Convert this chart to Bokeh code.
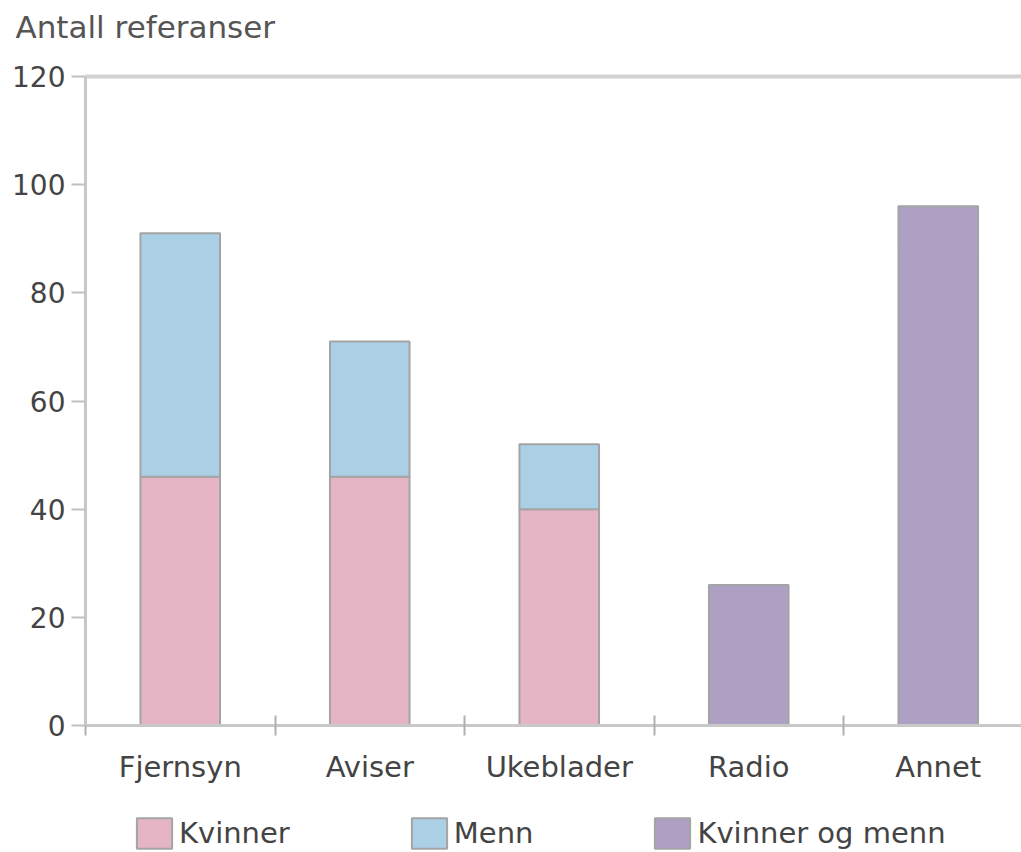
from bokeh.plotting import figure
from bokeh.models import (Range1d, FixedTicker, Legend, LegendItem, ColumnDataSource,
                          Label, LinearAxis)
from bokeh.embed import file_html
from bokeh.resources import INLINE

# ---- data ----
categories = ["Fjernsyn", "Aviser", "Ukeblader", "Radio", "Annet"]
stacked_categories = ["Fjernsyn", "Aviser", "Ukeblader"]
kvinner = [46, 46, 40]
menn = [45, 25, 12]
combined_categories = ["Radio", "Annet"]
kvinner_og_menn = [26, 96]
y_ticks = [0, 20, 40, 60, 80, 100, 120]
title_text = "Antall referanser"
legend_labels = ["Kvinner", "Menn", "Kvinner og menn"]

# ---- style ----
FONT = "DejaVu Sans"
PINK = "#e5b4c5"
BLUE = "#abcfe5"
PURPLE = "#ada0c3"
EDGE = "#a4a4a4"
AXIS = "#c8c8c8"
TEXT = "#444444"

# ---- pixel layout (frame covers the whole canvas; axes drawn at fixed locations) ----
W, H = 1021, 852
LEFT_PX, TOP_PX, ZERO_PX = 85, 76, 725
PX_PER_CAT = 189.5
Y_MAX = y_ticks[-1]
PX_PER_UNIT = (ZERO_PX - TOP_PX) / Y_MAX
x_start = -0.5 - LEFT_PX / PX_PER_CAT
x_end = -0.5 + (W - LEFT_PX) / PX_PER_CAT
y_end = Y_MAX + TOP_PX / PX_PER_UNIT
y_start = -(H - ZERO_PX) / PX_PER_UNIT

p = figure(width=W, height=H, title=None,
           min_border_left=0, min_border_right=0, min_border_top=0, min_border_bottom=0,
           x_range=Range1d(x_start, x_end), y_range=Range1d(y_start, y_end),
           output_backend="svg", toolbar_location=None,
           background_fill_color="white", border_fill_color="white")

xa = p.below[0]
ya = p.left[0]

p.add_layout(Label(x=-0.5, y=Y_MAX, x_offset=-70, y_offset=50, text=title_text,
                   text_font=FONT, text_font_size="31px", text_color="#555555",
                   text_baseline="alphabetic", text_align="left"))

src_stack = ColumnDataSource(dict(
    x=[categories.index(c) for c in stacked_categories],
    kvinner=kvinner, menn=menn))
rs = p.vbar_stack(["kvinner", "menn"], x="x", width=0.42, source=src_stack,
                  fill_color=[PINK, BLUE], line_color=EDGE, line_width=2)

src_comb = ColumnDataSource(dict(
    x=[categories.index(c) for c in combined_categories],
    top=kvinner_og_menn))
r3 = p.vbar(x="x", top="top", width=0.42, source=src_comb,
            fill_color=PURPLE, line_color=EDGE, line_width=2)

p.xgrid.visible = False
p.ygrid.visible = False
p.outline_line_color = None

# top border line drawn as a bare axis at y = 120
top_axis = LinearAxis(fixed_location=Y_MAX, bounds=(-0.5, x_end),
                      ticker=FixedTicker(ticks=[]),
                      axis_line_color="#d2d2d2", axis_line_width=4,
                      major_tick_line_color=None, minor_tick_line_color=None,
                      major_label_text_alpha=0)
p.add_layout(top_axis, "above")

xa.fixed_location = 0
xa.bounds = (-0.5, x_end)
xa.ticker = FixedTicker(ticks=list(range(len(categories))),
                        minor_ticks=[i - 0.5 for i in range(len(categories))])
xa.major_label_overrides = {i: c for i, c in enumerate(categories)}
xa.major_tick_in = 0
xa.major_tick_out = 0
xa.minor_tick_in = 10
xa.minor_tick_out = 10
xa.minor_tick_line_color = "#b0b0b0"
xa.minor_tick_line_width = 2
xa.axis_line_color = AXIS
xa.axis_line_width = 3
xa.major_label_standoff = 14
xa.major_label_text_font = FONT
xa.major_label_text_font_size = "29px"
xa.major_label_text_color = TEXT

ya.fixed_location = -0.5
ya.bounds = (0, Y_MAX)
ya.ticker = FixedTicker(ticks=y_ticks)
ya.major_tick_in = 0
ya.major_tick_out = 14
ya.minor_tick_line_color = None
ya.major_tick_line_color = "#c0c0c0"
ya.major_tick_line_width = 2
ya.axis_line_color = AXIS
ya.axis_line_width = 3
ya.major_label_standoff = 6
ya.major_label_text_font = FONT
ya.major_label_text_font_size = "28px"
ya.major_label_text_color = TEXT

legend = Legend(items=[LegendItem(label=legend_labels[0], renderers=[rs[0]]),
                       LegendItem(label=legend_labels[1], renderers=[rs[1]]),
                       LegendItem(label=legend_labels[2], renderers=[r3])],
                orientation="horizontal", location=(132, 0),
                glyph_width=44, glyph_height=38, label_standoff=3, spacing=117,
                label_text_font=FONT, label_text_font_size="29px", label_text_color=TEXT,
                border_line_color=None, background_fill_alpha=0,
                padding=0, margin=0)
p.add_layout(legend, "center")

open("out.html", "w").write(file_html(p, INLINE))
